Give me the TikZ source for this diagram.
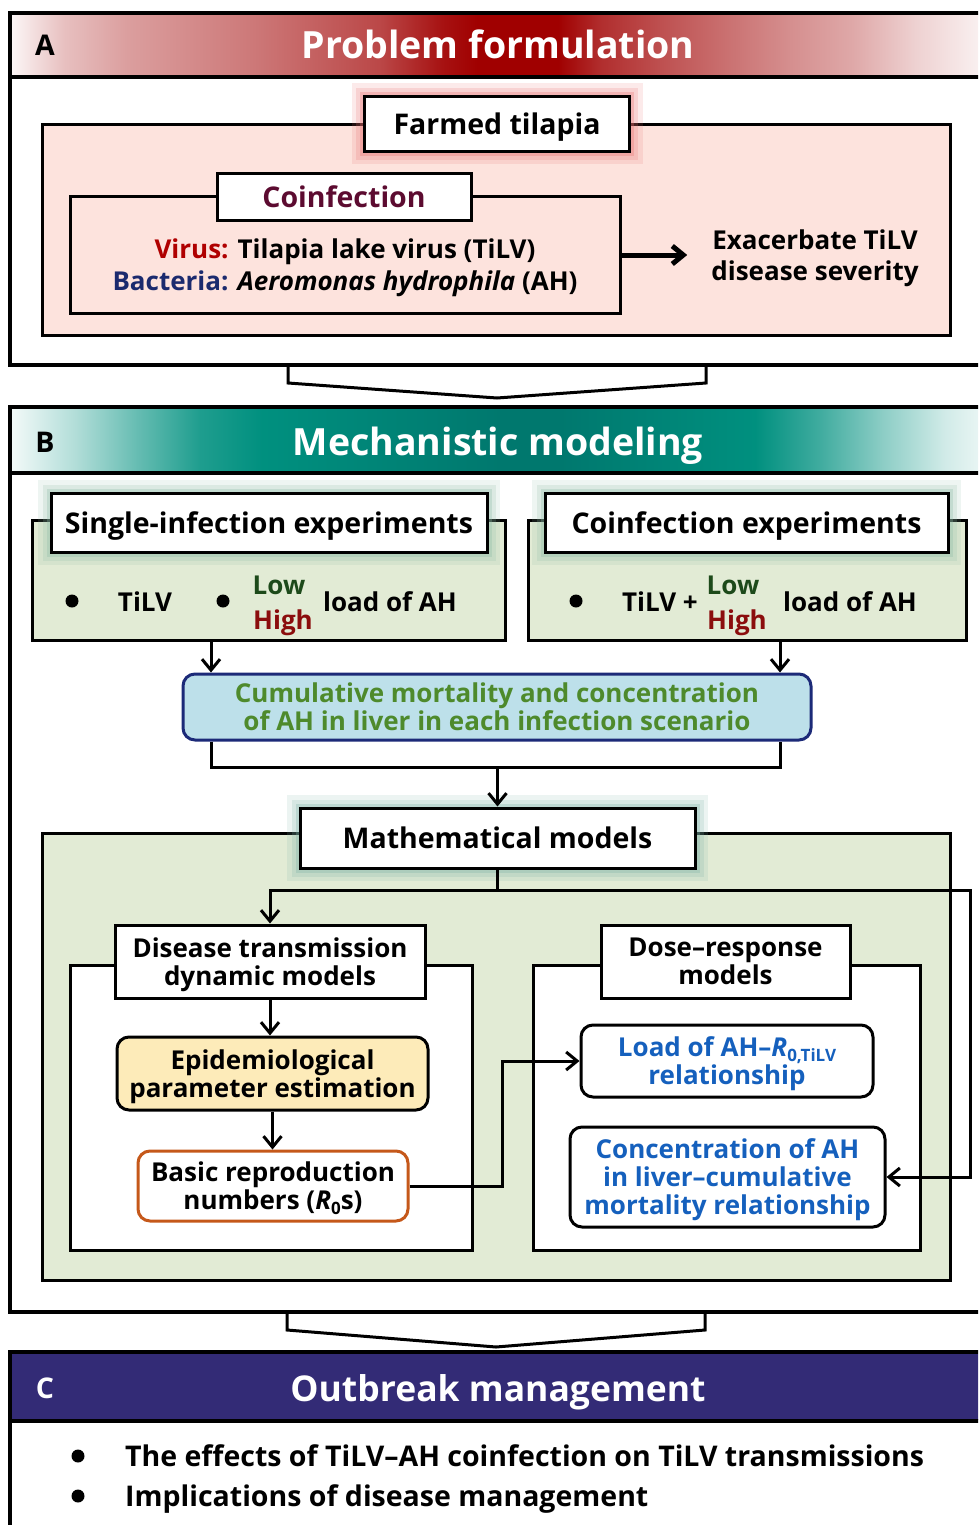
\documentclass[tikz,border=0pt]{standalone}
\usepackage{fontspec}
\setmainfont{Open Sans}
\usetikzlibrary{positioning,arrows.meta}
\definecolor{bandred}{HTML}{A00000}
\definecolor{bandteal}{HTML}{00907F}
\definecolor{tealdark}{HTML}{00786E}
\definecolor{bandnavy}{HTML}{332B76}
\definecolor{pinkfill}{HTML}{FDE3DD}
\definecolor{sage}{HTML}{E2EBD5}
\definecolor{skyfill}{HTML}{BDE0EA}
\definecolor{creamfill}{HTML}{FDEBB9}
\definecolor{navyline}{HTML}{1C2A78}
\definecolor{leafgreen}{HTML}{4E8A2C}
\definecolor{rustline}{HTML}{C5581A}
\definecolor{linkblue}{HTML}{1560BD}
\definecolor{wine}{HTML}{5C0B30}
\definecolor{virusred}{HTML}{B00000}
\definecolor{bactblue}{HTML}{1B2A6E}
\definecolor{lowgreen}{HTML}{1D4A1A}
\definecolor{highred}{HTML}{8B0D0D}
\definecolor{glowred}{HTML}{E87070}
\definecolor{glowgreen}{HTML}{8DBBA5}
\definecolor{glowteal}{HTML}{7DB3A8}
\pgfdeclarehorizontalshading{redband}{100bp}{color(0bp)=(bandred!4); color(25bp)=(bandred!4);
  color(27.7bp)=(bandred!25); color(30.9bp)=(bandred!38); color(37.4bp)=(bandred!53);
  color(43.8bp)=(bandred!72); color(47bp)=(bandred!93); color(48.8bp)=(bandred); color(52.9bp)=(bandred);
  color(55.1bp)=(bandred!82); color(58.3bp)=(bandred!68); color(61.5bp)=(bandred!56);
  color(64.8bp)=(bandred!44); color(68bp)=(bandred!34); color(71.2bp)=(bandred!18);
  color(75bp)=(bandred!4); color(100bp)=(bandred!4)}
\pgfdeclarehorizontalshading{tealband}{100bp}{color(0bp)=(bandteal!5); color(25bp)=(bandteal!5);
  color(28.2bp)=(bandteal!30); color(31.4bp)=(bandteal!60); color(34.6bp)=(bandteal!88);
  color(37.8bp)=(bandteal); color(50bp)=(tealdark); color(53bp)=(tealdark); color(63bp)=(bandteal);
  color(66.3bp)=(bandteal!75); color(69.5bp)=(bandteal!45); color(72.7bp)=(bandteal!18);
  color(75bp)=(bandteal!6); color(100bp)=(bandteal!6)}
\newcommand\bodyfont{\fontsize{26}{28}\selectfont\bfseries}
\newcommand\boxfont{\fontsize{28.5}{30}\selectfont\bfseries}
\newcommand\headfont{\fontsize{37.5}{42}\selectfont\bfseries}
\newcommand\lowidx[1]{\raisebox{-5pt}{\fontsize{17}{17}\selectfont #1}}
\tikzset
{
  secframe/.style  = {draw=black, line width=4pt},
  panel/.style     = {draw=black, line width=3pt, inner sep=0pt},
  titlebox/.style  = {draw=black, fill=white, line width=3pt, font=\bodyfont, align=center, inner sep=0pt, text depth=0pt},
  rbox/.style      = {draw=black, line width=3pt, rounded corners=12pt, font=\bodyfont, align=center, inner sep=0pt, text depth=0pt},
  txtnode/.style   = {font=\bodyfont, align=center, inner sep=0pt},
  headtext/.style  = {font=\headfont, text=white, inner sep=0pt, text depth=0pt},
  glow/.style      = {preaction={draw=#1, draw opacity=.15, line width=26pt},
                      preaction={draw=#1, draw opacity=.2, line width=17pt},
                      preaction={draw=#1, draw opacity=.3, line width=9pt}},
  dot/.style       = {circle, fill=black, inner sep=0pt, minimum size=13pt},
  wire/.style      = {line width=3pt},
  link/.style      = {line width=3pt, -{Straight Barb[length=11pt,width=18pt]}},
  chevron/.style   = {draw=black, fill=white, line width=3pt, line join=miter}
}
\begin{document}
\begin{tikzpicture}[x=1pt,y=-1pt]
\useasboundingbox (0,0) rectangle (978,1525);
\clip (0,0) rectangle (978,1525);
% A
\draw[chevron] (288,365) -- (288,383) -- (497,398) -- (706,383) -- (706,365);
\shade[shading=redband] (12,15) rectangle (990,76);
\draw[secframe] (10,13) rectangle (995,365);
\draw[secframe] (10,77) -- (995,77);
\node[txtnode, font=\boxfont] (tagA) at (45,45) {A};
\node[headtext] (titleA) at (498,44) {Problem formulation};
\node[panel, fill=pinkfill, minimum width=908, minimum height=210] (farm) at (496,230) {};
\node[titlebox, font=\boxfont, glow=glowred, minimum width=265, minimum height=55] (farmtag) at (497,124) {Farmed tilapia};
\node[panel, minimum width=550, minimum height=116] (coinf) at (345,255) {};
\node[titlebox, font=\boxfont, text=wine, minimum width=254, minimum height=47] (coinftag) at (344,197) {Coinfection};
\node[txtnode] (agents) at (345,268) {\textcolor{virusred}{Virus:} Tilapia lake virus (TiLV)\\[4pt]
  \textcolor{bactblue}{Bacteria:} \textit{Aeromonas hydrophila} (AH)};
\node[txtnode, inner xsep=24pt] (worse) at (815,258) {Exacerbate TiLV\\[3pt]disease severity};
\draw[link, line width=5pt] (coinf.east) -- (coinf.east -| worse.west);
% B
\draw[chevron] (287,1312) -- (287,1330) -- (496,1347) -- (705,1330) -- (705,1312);
\shade[shading=tealband] (12,409) rectangle (990,472);
\draw[secframe] (10,407) rectangle (995,1312);
\draw[secframe] (10,473) -- (995,473);
\node[txtnode, font=\boxfont] (tagB) at (45,442) {B};
\node[headtext] (titleB) at (498,441) {Mechanistic modeling};
\node[panel, fill=sage, minimum width=473, minimum height=120] (single) at (268.5,580) {};
\node[panel, fill=sage, minimum width=438, minimum height=120] (coexp) at (747,580) {};
\node[titlebox, font=\boxfont, glow=glowgreen, minimum width=436, minimum height=59] (singletag) at (269,522.5) {Single-infection experiments};
\node[titlebox, font=\boxfont, glow=glowgreen, minimum width=403, minimum height=59] (coexptag) at (746.5,522.5) {Coinfection experiments};
\node[dot] (d1) at (72,601) {};
\node[txtnode, anchor=base] (tilv1) at (145,611) {TiLV};
\node[dot] (d2) at (223,601) {};
\node[txtnode, anchor=base, text=lowgreen] (low1) at (279,594) {Low};
\node[txtnode, anchor=base, text=highred] (high1) at (283,629) {High};
\node[txtnode, anchor=base] (load1) at (390,611) {load of AH};
\node[dot] (d3) at (576,601) {};
\node[txtnode, anchor=base] (tilv2) at (660,611) {TiLV +};
\node[txtnode, anchor=base, text=lowgreen] (low2) at (733,594) {Low};
\node[txtnode, anchor=base, text=highred] (high2) at (737,629) {High};
\node[txtnode, anchor=base] (load2) at (850,611) {load of AH};
\node[rbox, fill=skyfill, draw=navyline, text=leafgreen, minimum width=628, minimum height=66] (cumul) at (497,707)
  {Cumulative mortality and concentration\\of AH in liver in each infection scenario};
\coordinate (lcol) at (211,0);
\coordinate (rcol) at (780,0);
\draw[link] (lcol |- single.south) -- (lcol |- cumul.north);
\draw[link] (rcol |- coexp.south) -- (rcol |- cumul.north);
\coordinate (join) at (497.5,767);
\draw[wire] (lcol |- cumul.south) |- (join) -| (rcol |- cumul.south);
\node[panel, fill=sage, minimum width=908, minimum height=447] (math) at (496,1056.5) {};
\node[titlebox, font=\boxfont, glow=glowteal, minimum width=395, minimum height=60] (mathtag) at (497.5,838) {Mathematical models};
\draw[link] (join) -- (mathtag.north);
\node[panel, fill=white, minimum width=402, minimum height=285] (dtm) at (271,1107.5) {};
\node[titlebox, minimum width=310, minimum height=73] (dtmtag) at (270,961.5) {Disease transmission\\dynamic models};
\node[rbox, fill=creamfill, minimum width=311, minimum height=73] (epi) at (272.5,1073.5) {Epidemiological\\parameter estimation};
\node[rbox, draw=rustline, fill=white, minimum width=270, minimum height=70] (basic) at (273,1186) {Basic reproduction\\numbers (\textit{R}\lowidx{0}s)};
\node[panel, fill=white, minimum width=387, minimum height=285] (dose) at (726.5,1107.5) {};
\node[titlebox, minimum width=249, minimum height=73] (dosetag) at (725.5,961.5) {Dose--response\\models};
\node[rbox, fill=white, text=linkblue, minimum width=292, minimum height=72] (loadrel) at (727,1061) {Load of AH--\textit{R}\lowidx{0,TiLV}\\relationship};
\node[rbox, fill=white, text=linkblue, minimum width=315, minimum height=100] (concrel) at (727.5,1177) {Concentration of AH\\in liver--cumulative\\mortality relationship};
\coordinate (feed) at (970,890);
\coordinate (split) at (mathtag.south |- feed);
\coordinate (bend) at (502,0);
\draw[wire] (mathtag.south) -- (split);
\draw[link] (split) -| (dtmtag.north);
\draw[link] (split) -- (feed) |- (concrel.east);
\draw[link] (dtmtag.south) -- (dtmtag.south |- epi.north);
\draw[link] (epi.south) -- (epi.south |- basic.north);
\draw[link] (basic.east) -- (bend |- basic.east) -- (bend |- loadrel.west) -- (loadrel.west);
% C
\fill[bandnavy] (12,1354) rectangle (990,1420);
\draw[secframe] (10,1352) rectangle (995,1560);
\draw[secframe] (10,1421) -- (995,1421);
\node[txtnode, font=\boxfont, text=white] (tagC) at (45,1388) {C};
\node[headtext, font=\fontsize{35.5}{40}\selectfont\bfseries] (titleC) at (498,1388) {Outbreak management};
\node[dot] (b1) at (78,1456) {};
\node[txtnode, font=\boxfont, anchor=base west] (point1) at (125,1466) {The effects of TiLV--AH coinfection on TiLV transmissions};
\node[dot] (b2) at (78,1496) {};
\node[txtnode, font=\boxfont, anchor=base west] (point2) at (125,1506) {Implications of disease management};
\end{tikzpicture}
\end{document}
